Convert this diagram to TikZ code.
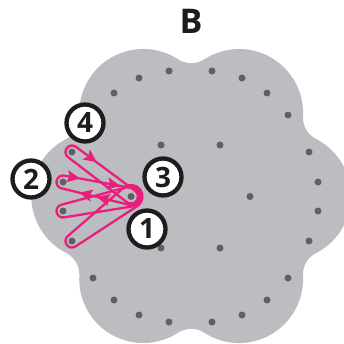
\documentclass[tikz,border=0pt]{standalone}
\usepackage{fontspec}
\setsansfont{Open Sans}
\usetikzlibrary{calc,arrows.meta}
\definecolor{petal}{RGB}{188,189,192}
\definecolor{pin}{RGB}{95,96,98}
\definecolor{threadc}{RGB}{233,30,125}
\definecolor{ink}{RGB}{30,28,29}
\begin{document}
\begin{tikzpicture}[x=1pt,y=1pt,
  dot/.style={circle,fill=pin,inner sep=0pt,minimum size=7pt},
  numlabel/.style={circle,draw=ink,line width=4.3pt,fill=white,minimum size=37pt,inner sep=0pt,
    font=\sffamily\bfseries\fontsize{28}{28}\selectfont,text=ink},
  threadline/.style={color=threadc,line width=2.3pt,line join=round},
  headonly/.style={color=threadc,line width=2.3pt,-{Stealth[length=13pt,width=12pt,inset=2.5pt]}}]
\useasboundingbox (0,0) rectangle (344,343);
% flower-shaped plate
\fill[petal] (316.06,89.97) \foreach \k in {0,...,5}{
    arc[start angle=\k*60-63, end angle=\k*60+63, radius=64]
    arc[start angle=\k*60+243, end angle=\k*60+177, radius=24] } -- cycle;
\coordinate (O) at (190.5,146.5);
% pins
\foreach \n/\dx/\dy in {
  B/-127.5/14.5, C/-127.5/-14.5, A/-118.5/44.5, D/-118.5/-44.5,
  o1/127.5/14.5, o2/127.5/-14.5, o3/118.5/44.5, o4/118.5/-44.5,
  o5/97.5/81.5, o6/97.5/-81.5, o7/-97.5/81.5, o8/-97.5/-81.5,
  o9/76.5/103.5, o10/76.5/-103.5, o11/-76.5/103.5, o12/-76.5/-103.5,
  o13/51.5/118.5, o14/51.5/-118.5, o15/-51.5/118.5, o16/-51.5/-118.5,
  o17/21.5/125.5, o18/21.5/-125.5, o19/-21.5/125.5, o20/-21.5/-125.5,
  i1/29.5/51.5, i2/29.5/-51.5, i3/-29.5/51.5, i4/-29.5/-51.5,
  i5/59.5/0, cen/-59.5/0}
  \node[dot] (\n) at ($(O)+(\dx,\dy)$) {};
% threads
\draw[threadline] let \p1=($(cen)-(D)$), \n1={atan2(\y1,\x1)} in
  ($(D)+(\n1+90:6.5)$) -- ($(cen)+(\n1+90:11.5)$)
  arc[start angle=\n1+90, delta angle=-180, radius=11.5]
  -- ($(D)+(\n1-90:6.5)$) arc[start angle=\n1-90, delta angle=-180, radius=6.5] -- cycle;
\draw[threadline] let \p1=($(cen)-(C)$), \n1={atan2(\y1,\x1)} in
  ($(C)+(\n1+90:6.5)$) -- ($(cen)+(\n1+90:10)$)
  arc[start angle=\n1+90, delta angle=-180, radius=10]
  -- ($(C)+(\n1-90:6.5)$) arc[start angle=\n1-90, delta angle=-180, radius=6.5] -- cycle;
\draw[threadline] let \p1=($(cen)-(B)$), \n1={atan2(\y1,\x1)} in
  ($(B)+(\n1+90:6.5)$) coordinate (bu1) -- ($(cen)+(\n1+90:8.5)$) coordinate (bu2)
  arc[start angle=\n1+90, delta angle=-180, radius=8.5] coordinate (bl2)
  -- ($(B)+(\n1-90:6.5)$) coordinate (bl1) arc[start angle=\n1-90, delta angle=-180, radius=6.5] -- cycle;
\draw[threadline] let \p1=($(cen)-(A)$), \n1={atan2(\y1,\x1)} in
  ($(A)+(\n1+90:6.5)$) coordinate (au1) -- ($(cen)+(\n1+90:7)$) coordinate (au2)
  arc[start angle=\n1+90, delta angle=-180, radius=7]
  -- ($(A)+(\n1-90:6.5)$) arc[start angle=\n1-90, delta angle=-180, radius=6.5] -- cycle;
% arrowheads on the threads
\draw[headonly] ($(au1)!22pt!(au2)$) -- ($(au1)!26pt!(au2)$);
\draw[headonly] ($(bu1)!12pt!(bu2)$) -- ($(bu1)!16pt!(bu2)$);
\draw[headonly] ($(bu1)!53pt!(bu2)$) -- ($(bu1)!57pt!(bu2)$);
\draw[headonly] ($(bl1)!22pt!(bl2)$) -- ($(bl1)!18pt!(bl2)$);
\draw[headonly] ($(bl1)!40pt!(bl2)$) -- ($(bl1)!36pt!(bl2)$);
% labels
\node[numlabel] (l4) at (85,220) {4};
\node[numlabel] (l2) at (31,164) {2};
\node[numlabel] (l3) at (163,166) {3};
\node[numlabel] (l1) at (147,114) {1};
\node[font=\sffamily\bfseries\fontsize{34}{34}\selectfont,text=ink] (title) at (191,321.5) {B};
\end{tikzpicture}
\end{document}
